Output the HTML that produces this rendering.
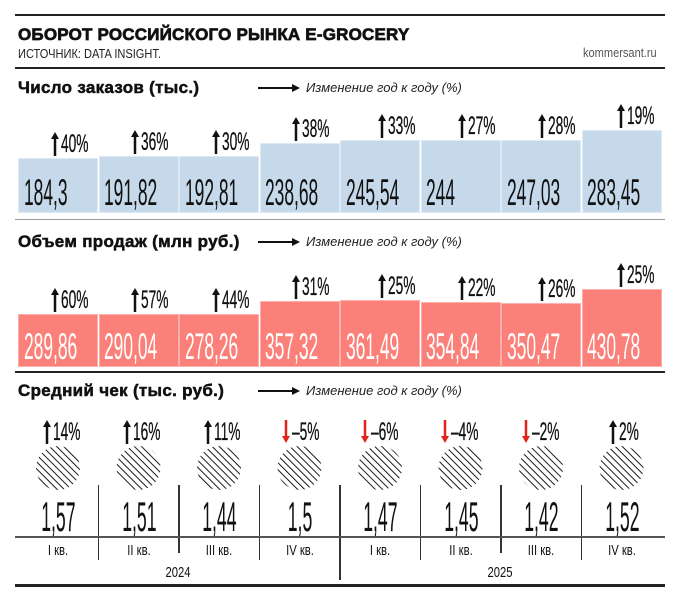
<!DOCTYPE html><html><head><meta charset="utf-8"><style>
body{margin:0;width:680px;height:600px;background:#fff;position:relative;font-family:"Liberation Sans",sans-serif;overflow:hidden}
div{position:absolute}
.r{background:#222;left:15px;width:650px}
.h{font-weight:bold;font-size:17px;color:#111;letter-spacing:0.3px;-webkit-text-stroke:0.5px #111}
.leg{font-style:italic;font-size:13px;color:#222}
.b{width:78px;border:1px solid #fff}
.bl{background:#c5d9ea;border-color:#dde9f3}
.rd{background:#fb807a;border-color:#fdb0ab}
.v{font-size:37px;transform:scaleX(.47);transform-origin:left top;white-space:nowrap;color:#111;line-height:37px}
.w{color:#fff}
.p{height:26px;white-space:nowrap}
.p svg{position:absolute;left:0;top:1px}
.p span{position:absolute;left:10px;top:1px;font-size:25px;transform:scaleX(.55);transform-origin:left top;color:#111;line-height:25px;-webkit-text-stroke:0.3px #111}
.c{width:80px;text-align:center}
.cv{font-size:42px;transform:scaleX(.42);line-height:42px;color:#111}
.q{font-size:15px;transform:scaleX(.75);color:#111}
.vl{width:1.5px;background:#333}
</style></head><body>
<div class="r" style="top:14px;height:2px"></div>
<div style="left:18px;top:25px;font-weight:900;font-size:17px;color:#111;-webkit-text-stroke:0.7px #111;letter-spacing:0.2px">ОБОРОТ РОССИЙСКОГО РЫНКА E-GROCERY</div>
<div style="left:18px;top:46px;font-size:13px;color:#222;transform:scaleX(.85);transform-origin:left">ИСТОЧНИК: DATA INSIGHT.</div>
<div style="left:583px;top:45px;font-size:13px;color:#555;transform:scaleX(.85);transform-origin:left">kommersant.ru</div>
<div class="r" style="top:67px;height:1.5px"></div>

<div class="h" style="left:18px;top:78px">Число заказов (тыс.)</div>
<svg style="position:absolute;left:258px;top:83px" width="42" height="10"><line x1="0" y1="5" x2="36" y2="5" stroke="#111" stroke-width="2"/><path d="M34 1L42 5L34 9Z" fill="#111"/></svg>
<div class="leg" style="left:306px;top:80px">Изменение год к году (%)</div>

<div class="b bl" style="left:18px;top:158px;height:53px"></div>
<div class="b bl" style="left:98.5px;top:156px;height:55px"></div>
<div class="b bl" style="left:179px;top:156px;height:55px"></div>
<div class="b bl" style="left:259.5px;top:143px;height:68px"></div>
<div class="b bl" style="left:340px;top:140px;height:71px"></div>
<div class="b bl" style="left:420.5px;top:140px;height:71px"></div>
<div class="b bl" style="left:501px;top:140px;height:71px"></div>
<div class="b bl" style="left:581.5px;top:130px;height:81px"></div>
<div class="v" style="left:24px;top:174px">184,3</div>
<div class="v" style="left:104px;top:174px">191,82</div>
<div class="v" style="left:185px;top:174px">192,81</div>
<div class="v" style="left:265px;top:174px">238,68</div>
<div class="v" style="left:346px;top:174px">245,54</div>
<div class="v" style="left:426px;top:174px">244</div>
<div class="v" style="left:507px;top:174px">247,03</div>
<div class="v" style="left:587px;top:174px">283,45</div>

<div class="r" style="top:219px;height:1px;background:#999"></div>

<div class="h" style="left:18px;top:232px">Объем продаж (млн руб.)</div>
<svg style="position:absolute;left:258px;top:237px" width="42" height="10"><line x1="0" y1="5" x2="36" y2="5" stroke="#111" stroke-width="2"/><path d="M34 1L42 5L34 9Z" fill="#111"/></svg>
<div class="leg" style="left:306px;top:234px">Изменение год к году (%)</div>

<div class="b rd" style="left:18px;top:314px;height:51px"></div>
<div class="b rd" style="left:98.5px;top:314px;height:51px"></div>
<div class="b rd" style="left:179px;top:314px;height:51px"></div>
<div class="b rd" style="left:259.5px;top:301px;height:64px"></div>
<div class="b rd" style="left:340px;top:300px;height:65px"></div>
<div class="b rd" style="left:420.5px;top:302px;height:63px"></div>
<div class="b rd" style="left:501px;top:303px;height:62px"></div>
<div class="b rd" style="left:581.5px;top:289px;height:76px"></div>
<div class="v w" style="left:24px;top:328px">289,86</div>
<div class="v w" style="left:104px;top:328px">290,04</div>
<div class="v w" style="left:185px;top:328px">278,26</div>
<div class="v w" style="left:265px;top:328px">357,32</div>
<div class="v w" style="left:346px;top:328px">361,49</div>
<div class="v w" style="left:426px;top:328px">354,84</div>
<div class="v w" style="left:507px;top:328px">350,47</div>
<div class="v w" style="left:587px;top:328px">430,78</div>

<div class="r" style="top:371px;height:1.5px"></div>

<div class="h" style="left:18px;top:381px">Средний чек (тыс. руб.)</div>
<svg style="position:absolute;left:258px;top:386px" width="42" height="10"><line x1="0" y1="5" x2="36" y2="5" stroke="#111" stroke-width="2"/><path d="M34 1L42 5L34 9Z" fill="#111"/></svg>
<div class="leg" style="left:306px;top:383px">Изменение год к году (%)</div>

<div class="p" style="left:51px;top:131px"><svg width="8" height="24"><line x1="4" y1="4" x2="4" y2="24" stroke="#111" stroke-width="2.5"/><path d="M0 7L4 0L8 7Z" fill="#111"/></svg><span>40%</span></div>
<div class="p" style="left:131px;top:129px"><svg width="8" height="24"><line x1="4" y1="4" x2="4" y2="24" stroke="#111" stroke-width="2.5"/><path d="M0 7L4 0L8 7Z" fill="#111"/></svg><span>36%</span></div>
<div class="p" style="left:212px;top:129px"><svg width="8" height="24"><line x1="4" y1="4" x2="4" y2="24" stroke="#111" stroke-width="2.5"/><path d="M0 7L4 0L8 7Z" fill="#111"/></svg><span>30%</span></div>
<div class="p" style="left:292px;top:116px"><svg width="8" height="24"><line x1="4" y1="4" x2="4" y2="24" stroke="#111" stroke-width="2.5"/><path d="M0 7L4 0L8 7Z" fill="#111"/></svg><span>38%</span></div>
<div class="p" style="left:378px;top:113px"><svg width="8" height="24"><line x1="4" y1="4" x2="4" y2="24" stroke="#111" stroke-width="2.5"/><path d="M0 7L4 0L8 7Z" fill="#111"/></svg><span>33%</span></div>
<div class="p" style="left:458px;top:113px"><svg width="8" height="24"><line x1="4" y1="4" x2="4" y2="24" stroke="#111" stroke-width="2.5"/><path d="M0 7L4 0L8 7Z" fill="#111"/></svg><span>27%</span></div>
<div class="p" style="left:538px;top:113px"><svg width="8" height="24"><line x1="4" y1="4" x2="4" y2="24" stroke="#111" stroke-width="2.5"/><path d="M0 7L4 0L8 7Z" fill="#111"/></svg><span>28%</span></div>
<div class="p" style="left:617px;top:103px"><svg width="8" height="24"><line x1="4" y1="4" x2="4" y2="24" stroke="#111" stroke-width="2.5"/><path d="M0 7L4 0L8 7Z" fill="#111"/></svg><span>19%</span></div>

<div class="p" style="left:51px;top:287px"><svg width="8" height="24"><line x1="4" y1="4" x2="4" y2="24" stroke="#111" stroke-width="2.5"/><path d="M0 7L4 0L8 7Z" fill="#111"/></svg><span>60%</span></div>
<div class="p" style="left:131px;top:287px"><svg width="8" height="24"><line x1="4" y1="4" x2="4" y2="24" stroke="#111" stroke-width="2.5"/><path d="M0 7L4 0L8 7Z" fill="#111"/></svg><span>57%</span></div>
<div class="p" style="left:212px;top:287px"><svg width="8" height="24"><line x1="4" y1="4" x2="4" y2="24" stroke="#111" stroke-width="2.5"/><path d="M0 7L4 0L8 7Z" fill="#111"/></svg><span>44%</span></div>
<div class="p" style="left:292px;top:274px"><svg width="8" height="24"><line x1="4" y1="4" x2="4" y2="24" stroke="#111" stroke-width="2.5"/><path d="M0 7L4 0L8 7Z" fill="#111"/></svg><span>31%</span></div>
<div class="p" style="left:378px;top:273px"><svg width="8" height="24"><line x1="4" y1="4" x2="4" y2="24" stroke="#111" stroke-width="2.5"/><path d="M0 7L4 0L8 7Z" fill="#111"/></svg><span>25%</span></div>
<div class="p" style="left:458px;top:275px"><svg width="8" height="24"><line x1="4" y1="4" x2="4" y2="24" stroke="#111" stroke-width="2.5"/><path d="M0 7L4 0L8 7Z" fill="#111"/></svg><span>22%</span></div>
<div class="p" style="left:538px;top:276px"><svg width="8" height="24"><line x1="4" y1="4" x2="4" y2="24" stroke="#111" stroke-width="2.5"/><path d="M0 7L4 0L8 7Z" fill="#111"/></svg><span>26%</span></div>
<div class="p" style="left:617px;top:262px"><svg width="8" height="24"><line x1="4" y1="4" x2="4" y2="24" stroke="#111" stroke-width="2.5"/><path d="M0 7L4 0L8 7Z" fill="#111"/></svg><span>25%</span></div>

<div class="p" style="left:43px;top:419px"><svg width="8" height="24"><line x1="4" y1="4" x2="4" y2="24" stroke="#111" stroke-width="2.5"/><path d="M0 7L4 0L8 7Z" fill="#111"/></svg><span>14%</span></div>
<div class="p" style="left:123px;top:419px"><svg width="8" height="24"><line x1="4" y1="4" x2="4" y2="24" stroke="#111" stroke-width="2.5"/><path d="M0 7L4 0L8 7Z" fill="#111"/></svg><span>16%</span></div>
<div class="p" style="left:204px;top:419px"><svg width="8" height="24"><line x1="4" y1="4" x2="4" y2="24" stroke="#111" stroke-width="2.5"/><path d="M0 7L4 0L8 7Z" fill="#111"/></svg><span>11%</span></div>
<div class="p" style="left:282px;top:419px"><svg width="8" height="24"><line x1="4" y1="0" x2="4" y2="18" stroke="#e2231a" stroke-width="2.5"/><path d="M0 16L4 23L8 16Z" fill="#e2231a"/></svg><span>–5%</span></div>
<div class="p" style="left:361px;top:419px"><svg width="8" height="24"><line x1="4" y1="0" x2="4" y2="18" stroke="#e2231a" stroke-width="2.5"/><path d="M0 16L4 23L8 16Z" fill="#e2231a"/></svg><span>–6%</span></div>
<div class="p" style="left:441px;top:419px"><svg width="8" height="24"><line x1="4" y1="0" x2="4" y2="18" stroke="#e2231a" stroke-width="2.5"/><path d="M0 16L4 23L8 16Z" fill="#e2231a"/></svg><span>–4%</span></div>
<div class="p" style="left:522px;top:419px"><svg width="8" height="24"><line x1="4" y1="0" x2="4" y2="18" stroke="#e2231a" stroke-width="2.5"/><path d="M0 16L4 23L8 16Z" fill="#e2231a"/></svg><span>–2%</span></div>
<div class="p" style="left:609px;top:419px"><svg width="8" height="24"><line x1="4" y1="4" x2="4" y2="24" stroke="#111" stroke-width="2.5"/><path d="M0 7L4 0L8 7Z" fill="#111"/></svg><span>2%</span></div>

<svg style="position:absolute;left:0;top:440px" width="680" height="60">
<defs><pattern id="hp" width="5" height="5" patternUnits="userSpaceOnUse" patternTransform="rotate(-45)"><line x1="0" y1="0" x2="0" y2="5" stroke="#000" stroke-width="1.8"/></pattern></defs>
<g fill="url(#hp)">
<circle cx="58" cy="28" r="22"/><circle cx="138.5" cy="28" r="22"/><circle cx="219" cy="28" r="22"/><circle cx="299.5" cy="28" r="22"/><circle cx="380" cy="28" r="22"/><circle cx="460.5" cy="28" r="22"/><circle cx="541" cy="28" r="22"/><circle cx="621.5" cy="28" r="22"/>
</g></svg>

<div class="vl" style="left:97.5px;top:485px;height:75px"></div>
<div class="vl" style="left:178px;top:485px;height:68px"></div>
<div class="vl" style="left:258.5px;top:485px;height:75px"></div>
<div class="vl" style="left:339px;top:485px;height:95px"></div>
<div class="vl" style="left:419.5px;top:485px;height:75px"></div>
<div class="vl" style="left:500px;top:485px;height:68px"></div>
<div class="vl" style="left:580.5px;top:485px;height:75px"></div>
<div class="r" style="top:536px;height:1.5px;background:#555"></div>

<div class="c cv" style="left:18px;top:496px">1,57</div>
<div class="c cv" style="left:98.5px;top:496px">1,51</div>
<div class="c cv" style="left:179px;top:496px">1,44</div>
<div class="c cv" style="left:259.5px;top:496px">1,5</div>
<div class="c cv" style="left:340px;top:496px">1,47</div>
<div class="c cv" style="left:420.5px;top:496px">1,45</div>
<div class="c cv" style="left:501px;top:496px">1,42</div>
<div class="c cv" style="left:581.5px;top:496px">1,52</div>

<div class="c q" style="left:18px;top:542px">I кв.</div>
<div class="c q" style="left:98.5px;top:542px">II кв.</div>
<div class="c q" style="left:179px;top:542px">III кв.</div>
<div class="c q" style="left:259.5px;top:542px">IV кв.</div>
<div class="c q" style="left:340px;top:542px">I кв.</div>
<div class="c q" style="left:420.5px;top:542px">II кв.</div>
<div class="c q" style="left:501px;top:542px">III кв.</div>
<div class="c q" style="left:581.5px;top:542px">IV кв.</div>
<div class="c q" style="left:138px;top:564px">2024</div>
<div class="c q" style="left:460px;top:564px">2025</div>

<div class="r" style="top:584px;height:2.5px"></div>
</body></html>
